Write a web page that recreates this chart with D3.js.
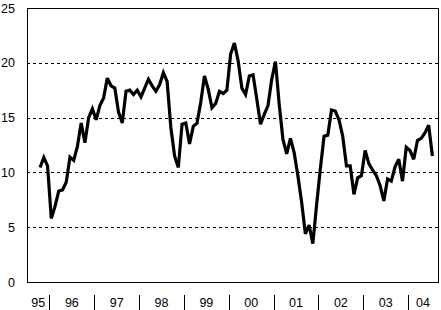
<!DOCTYPE html>
<html>
<head>
<meta charset="utf-8">
<script src="https://cdn.jsdelivr.net/npm/d3@7"></script>
<style>
    html, body { margin: 0; padding: 0; background: #fff; }
    svg { display: block; }
    text { font-family: Arial, "Liberation Sans", sans-serif; font-size: 12.5px; fill: #000; }
</style>
</head>
<body>
<div id="chart"></div>
<script>
const config = {
    width: 441,
    height: 310,
    marginTop: 8,
    marginRight: 3,
    marginBottom: 28,
    marginLeft: 27
};

// category axis runs Jul 1995 - Aug 2004, one slot per month
const axisStart = new Date(1995, 6, 1);
const axisEnd = new Date(2004, 8, 1);
// the series itself begins in Oct 1995
const seriesStart = new Date(1995, 9, 1);

const values = [
    10.45, 11.36, 10.6, 5.8, 6.9, 8.3, 8.4, 9.1, 11.4, 11.1,
    12.4, 14.5, 12.7, 15.0, 15.8, 14.8, 16.1, 16.8, 18.6, 17.9,
    17.7, 15.5, 14.5, 17.4, 17.5, 17.1, 17.5, 16.9, 17.7, 18.5,
    17.9, 17.4, 18.0, 19.1, 18.3, 14.1, 11.5, 10.45, 14.4, 14.5,
    12.6, 14.2, 14.5, 16.4, 18.8, 17.6, 15.9, 16.3, 17.4, 17.2,
    17.5, 20.8, 21.8, 20.2, 17.7, 17.1, 18.8, 18.9, 16.7, 14.4,
    15.3, 16.1, 18.5, 20.1, 16.2, 13.0, 11.7, 13.1, 11.8, 9.7,
    7.3, 4.4, 5.2, 3.5, 7.0, 10.3, 13.3, 13.4, 15.7, 15.6,
    14.8, 13.3, 10.6, 10.6, 8.0, 9.5, 9.7, 12.0, 10.8, 10.2,
    9.7, 8.8, 7.4, 9.4, 9.2, 10.5, 11.2, 9.2, 12.3, 12.0,
    11.2, 12.9, 13.1, 13.6, 14.3, 11.5
];

const years = [1995, 1996, 1997, 1998, 1999, 2000, 2001, 2002, 2003, 2004];
const yearLabels = ['95', '96', '97', '98', '99', '00', '01', '02', '03', '04'];
const yTicks = [0, 5, 10, 15, 20, 25];

const months = d3.timeMonth.range(axisStart, axisEnd);
const data = values.map((v, i) => ({ date: d3.timeMonth.offset(seriesStart, i), value: v }));

const svg = d3.select('#chart')
    .append('svg')
    .attr('width', config.width)
    .attr('height', config.height);

const xScale = d3.scaleBand()
    .domain(months.map(d => +d))
    .range([config.marginLeft, config.width - config.marginRight])
    .padding(0);

const yScale = d3.scaleLinear()
    .domain([0, 25])
    .range([config.height - config.marginBottom, config.marginTop]);

const xLeft = config.marginLeft;
const xRight = config.width - config.marginRight;
const xMid = d => xScale(+d) + xScale.bandwidth() / 2;

// dashed gridlines
svg.append('g')
    .selectAll('line')
    .data(yTicks.filter(d => d > 0 && d < 25))
    .join('line')
    .attr('x1', xLeft)
    .attr('x2', xRight)
    .attr('y1', d => Math.round(yScale(d)) + 0.5)
    .attr('y2', d => Math.round(yScale(d)) + 0.5)
    .attr('stroke', '#000')
    .attr('stroke-dasharray', '3,3')
    .attr('shape-rendering', 'crispEdges');

// plot frame
svg.append('rect')
    .attr('x', xLeft + 0.5)
    .attr('y', Math.round(yScale(25)) + 0.5)
    .attr('width', xRight - xLeft)
    .attr('height', Math.round(yScale(0)) - Math.round(yScale(25)))
    .attr('fill', 'none')
    .attr('stroke', '#000')
    .attr('shape-rendering', 'crispEdges');

// y labels
svg.append('g')
    .selectAll('text')
    .data(yTicks)
    .join('text')
    .attr('x', 15)
    .attr('y', d => yScale(d) + 4.5)
    .attr('text-anchor', 'end')
    .text(d => d);

// year separators and labels
const boundaries = [xLeft]
    .concat(years.slice(1).map(y => xScale(+new Date(y, 0, 1))))
    .concat([xRight]);

svg.append('g')
    .selectAll('line')
    .data(boundaries.slice(1, -1))
    .join('line')
    .attr('x1', d => Math.round(d) + 0.5)
    .attr('x2', d => Math.round(d) + 0.5)
    .attr('y1', 295)
    .attr('y2', 310)
    .attr('stroke', '#000')
    .attr('shape-rendering', 'crispEdges');

svg.append('g')
    .selectAll('text')
    .data(yearLabels)
    .join('text')
    .attr('x', (d, i) => (boundaries[i] + boundaries[i + 1]) / 2)
    .attr('y', 306.5)
    .attr('text-anchor', 'middle')
    .text(d => d);

const line = d3.line()
    .x(d => xMid(d.date))
    .y(d => yScale(d.value));

svg.append('path')
    .datum(data)
    .attr('fill', 'none')
    .attr('stroke', '#000')
    .attr('stroke-width', 3.2)
    .attr('stroke-linejoin', 'miter')
    .attr('stroke-miterlimit', 3)
    .attr('d', line);
</script>
</body>
</html>
